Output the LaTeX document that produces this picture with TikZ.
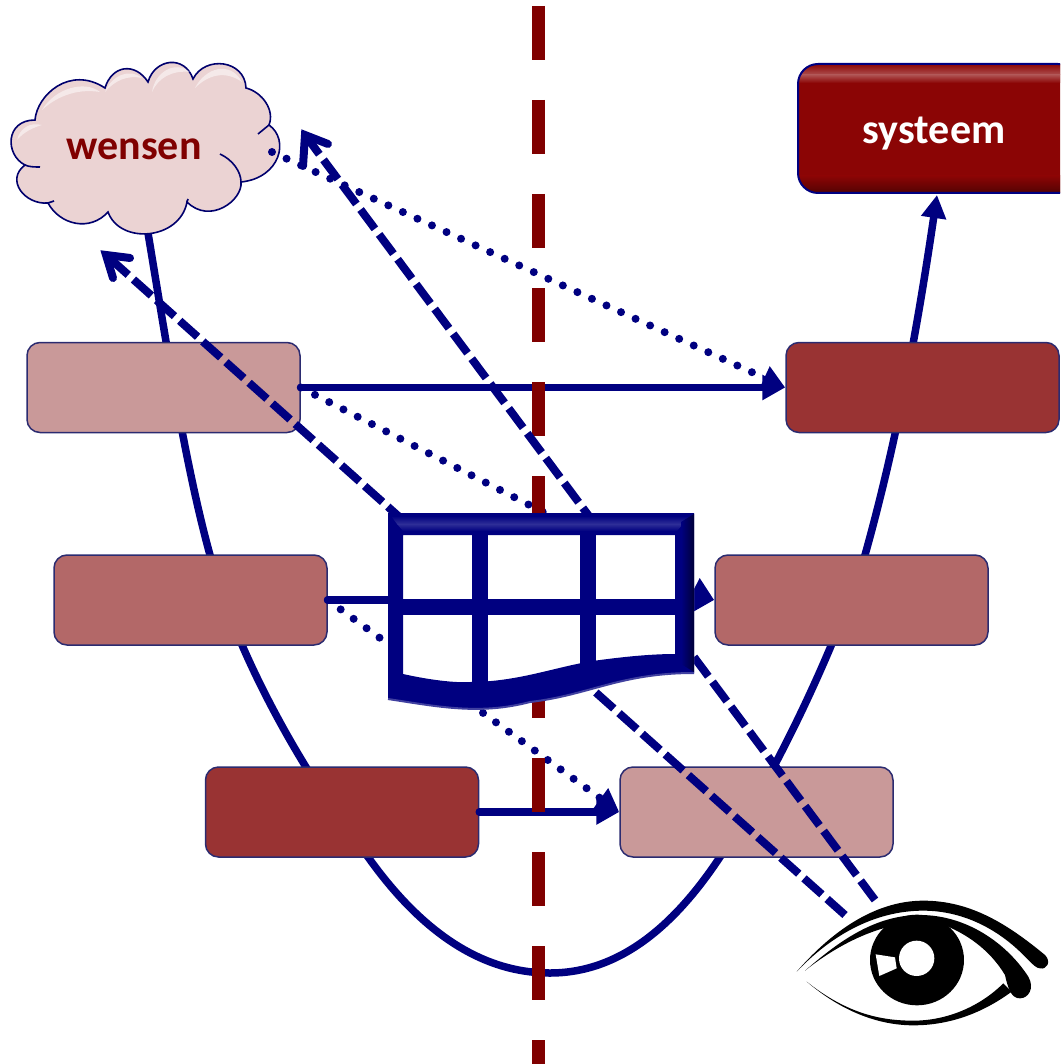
\documentclass[tikz,border=0pt]{standalone}
\usepackage{fontspec}
\setmainfont{Carlito}
\usetikzlibrary{arrows.meta,calc,fadings}
\definecolor{navyc}{HTML}{000080}
\definecolor{edgec}{HTML}{2B2B70}
\definecolor{redc}{HTML}{800000}
\definecolor{sysc}{HTML}{8B0505}
\definecolor{lightb}{HTML}{C99999}
\definecolor{midb}{HTML}{B36868}
\definecolor{darkb}{HTML}{993333}
\definecolor{cloudc}{HTML}{EBD3D3}
\tikzset{
  stepbox/.style={draw=edgec,line width=1.5pt,rounded corners=13pt,minimum width=273pt,minimum height=90pt,inner sep=0pt},
  headtip/.style={-{Triangle[length=23pt,width=24pt]}},
  solidarrow/.style={draw=navyc,line width=7.5pt,line cap=round,headtip},
  dottedarrow/.style={draw=navyc,line width=8pt,line cap=round,dash pattern=on 0pt off 16pt,headtip},
  dashedline/.style={draw=navyc,line width=8pt,dash pattern=on 24pt off 7pt},
  barbhead/.style={draw=navyc,line width=8pt,line cap=round,line join=miter,miter limit=10},
  lbl/.style={font=\fontsize{42}{42}\selectfont\bfseries,inner sep=0pt,anchor=base},
  cloudedge/.style={draw=navyc!85!black,line width=1.6pt},
  gloss/.style={fill=white,opacity=.5}
}
\begin{document}
\begin{tikzpicture}[x=1pt,y=-1pt]
\useasboundingbox (0,0) rectangle (1060,1064);
\clip (0,0) rectangle (1060,1064);
% U curve
\coordinate (c1) at (148,233);
\coordinate (c3) at (210,555);
\coordinate (c6) at (368,857);
\coordinate (c8) at (550,973);
\coordinate (c10) at (720,857);
\coordinate (c13) at (865,555);
\coordinate (c16) at (937,195);
\draw[navyc,line width=7.5pt,headtip] (c1)
 .. controls (165,335) and (185,465) .. (c3)
 .. controls (235,650) and (300,770) .. (c6)
 .. controls (420,930) and (480,973) .. (c8)
 .. controls (620,973) and (675,925) .. (c10)
 .. controls (770,785) and (835,650) .. (c13)
 .. controls (900,430) and (920,310) .. (c16);
% boxes
\node[stepbox,fill=lightb] (L1) at (163.5,387.5) {};
\node[stepbox,fill=darkb] (R1) at (922.5,387.5) {};
\node[stepbox,fill=midb] (L2) at (190.5,600) {};
\node[stepbox,fill=midb] (R2) at (851.5,600) {};
\node[stepbox,fill=darkb] (L3) at (342,812) {};
\node[stepbox,fill=lightb] (R3) at (756.5,812) {};
% systeem
\node[fill=sysc,rounded corners=20pt,minimum width=280pt,minimum height=129pt,inner sep=0pt] (systeem) at (938,128.5) {};
\begin{scope}
\clip[rounded corners=20pt] (798,64) rectangle (1078,193);
\shade[top color=sysc,bottom color=sysc!70!white] (798,64) rectangle (1060,75);
\shade[top color=sysc!70!white,bottom color=sysc] (798,75) rectangle (1060,83);
\shade[top color=sysc,bottom color=sysc!60!black] (798,176) rectangle (1060,193);
\end{scope}
\draw[navyc,line width=2pt,rounded corners=20pt] (798,64) rectangle (1078,193);
\node[lbl,text=white] (sysl) at (934,144) {systeem};
% cloud
\path[cloudedge,fill=cloudc]
 (35,120) .. controls (37,95) and (70,65) .. (105,88)
 .. controls (112,65) and (135,62) .. (148,82)
 .. controls (155,58) and (185,55) .. (193,79)
 .. controls (205,55) and (245,60) .. (246,88)
 .. controls (262,92) and (275,110) .. (269,125)
 .. controls (290,140) and (280,178) .. (241,182)
 .. controls (243,200) and (210,225) .. (187,202)
 .. controls (180,240) and (120,245) .. (108,212)
 .. controls (90,232) and (60,225) .. (48,203)
 .. controls (25,205) and (5,180) .. (25,165)
 .. controls (5,155) and (5,120) .. (35,120) -- cycle;
\draw[cloudedge] (220,154) .. controls (233,160) and (241,172) .. (241,182);
\draw[cloudedge] (25,165) .. controls (29,167) and (35,167) .. (40,167);
\draw[cloudedge] (48,203) -- (54,201);
\draw[cloudedge] (187,202) -- (188,199);
\draw[cloudedge] (269,125) -- (258,134);
\fill[gloss] (42,110) .. controls (55,88) and (85,80) .. (100,92) .. controls (75,88) and (55,98) .. (42,110) -- cycle;
\fill[gloss] (105,92) .. controls (112,75) and (130,68) .. (142,78) .. controls (128,75) and (115,80) .. (105,92) -- cycle;
\fill[gloss] (152,92) .. controls (155,72) and (175,60) .. (190,72) .. controls (172,70) and (158,78) .. (152,92) -- cycle;
\fill[gloss] (195,88) .. controls (205,68) and (230,60) .. (242,82) .. controls (225,70) and (208,75) .. (195,88) -- cycle;
\fill[gloss] (17,140) .. controls (20,128) and (30,122) .. (42,125) .. controls (32,128) and (24,132) .. (17,140) -- cycle;
\node[lbl,text=redc] (wensen) at (134,160) {wensen};
% connectors
\coordinate (dA) at (272,152);
\coordinate (eyeA) at (875,900);
\coordinate (eyeB) at (845,915);
\coordinate (tipA) at (305,135);
\coordinate (tipB) at (106,255);
\draw[solidarrow] (L1.east) -- (R1.west);
\draw[solidarrow] (L2.east) -- (R2.west);
\draw[solidarrow] (L3.east) -- (R3.west);
\draw[dottedarrow] (dA) -- (R1.west);
\draw[dottedarrow] (L1.east) -- (R2.west);
\draw[dottedarrow] (L2.east) -- (R3.west);
% centre line
\coordinate (ctop) at (538,6);
\coordinate (cbot) at (538,1064);
\draw[redc,line width=13pt,dash pattern=on 54pt off 40pt] (ctop) -- (cbot);
% dashed sight lines
\draw[dashedline] (eyeA) -- (tipA);
\draw[dashedline] (eyeB) -- (tipB);
\coordinate (bA1) at (328,144);\coordinate (bA2) at (303,166);
\coordinate (bB1) at (130,258);\coordinate (bB2) at (113,278);
\draw[barbhead] (bA1) -- (tipA) -- (bA2);
\draw[barbhead] (bB1) -- (tipB) -- (bB2);
% table
\path[fill=white] (388,513) -- (694,513) -- (694,673) .. controls (620,673) and (590,695) .. (530,702) .. controls (480,715) and (440,707) .. (388,699) -- cycle;
\path[fill=navyc,even odd rule]
 (388,513) -- (694,513) -- (694,673) .. controls (620,673) and (590,695) .. (530,702) .. controls (480,715) and (440,707) .. (388,699) -- cycle
 (403,535) -- (403,674) .. controls (430,680) and (455,683) .. (470,682) .. controls (520,682) and (560,665) .. (600,660) .. controls (630,656) and (655,654) .. (675,654) -- (675,535) -- cycle;
\fill[navyc] (472,535) rectangle (488,690);
\fill[navyc] (580,531) rectangle (596,675);
\fill[navyc] (403,599) rectangle (675,615);
\shade[top color=navyc,bottom color=navyc!82!white] (391,516) -- (691,516) -- (683,524) -- (397,524) -- cycle;
\shade[top color=navyc!82!white,bottom color=navyc] (397,524) -- (683,524) -- (677,531) -- (403,531) -- cycle;
\shade[left color=navyc,right color=navyc!45!black] (681,522) -- (694,514) -- (694,672) -- (681,664) -- cycle;
\draw[navyc!75!white,line width=2pt] (388,699) .. controls (440,707) and (480,715) .. (530,702) .. controls (590,695) and (620,673) .. (694,673);
% eye
\begin{scope}[shift={(780,880)},x=.3333pt,y=-.3333pt]
\fill[black] (50,275) .. controls (150,160) and (280,62) .. (430,62)
 .. controls (570,62) and (680,130) .. (795,225)
 .. controls (815,245) and (800,270) .. (780,265)
 .. controls (770,265) and (760,255) .. (740,235)
 .. controls (650,140) and (540,92) .. (430,92)
 .. controls (280,92) and (150,170) .. (50,275) -- cycle;
\fill[black] (75,272) .. controls (170,190) and (280,105) .. (420,105)
 .. controls (560,105) and (680,190) .. (745,290)
 .. controls (765,325) and (745,355) .. (720,355)
 .. controls (695,355) and (685,330) .. (675,285)
 .. controls (630,210) and (560,160) .. (480,130)
 .. controls (340,110) and (190,180) .. (75,272) -- cycle;
\fill[black] (80,305) .. controls (200,400) and (300,422) .. (400,422)
 .. controls (500,422) and (600,380) .. (670,310)
 -- (695,335) .. controls (600,405) and (500,436) .. (400,436)
 .. controls (290,436) and (180,390) .. (80,305) -- cycle;
\fill[black] (411,240) circle[x radius=141,y radius=136];
\fill[white] (410,235) circle[radius=53];
\fill[white] (287,223) -- (345,232) -- (350,265) -- (298,288) -- cycle;
\end{scope}
\end{tikzpicture}
\end{document}
